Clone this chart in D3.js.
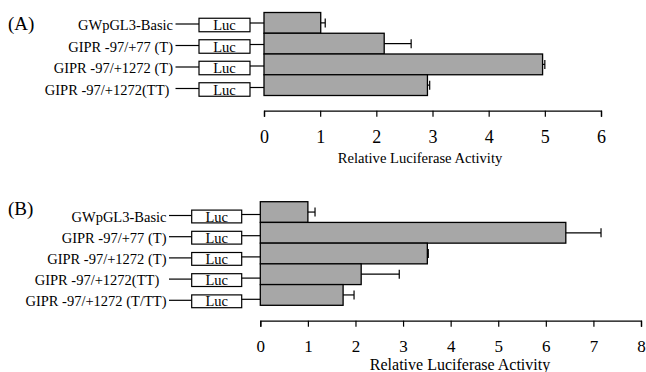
<!DOCTYPE html>
<html lang="en">
<head>
<meta charset="UTF-8">
<title>Relative Luciferase Activity</title>
<script src="https://cdn.jsdelivr.net/npm/d3@7"></script>
<style>
  body { margin: 0; background: #fff; }
  svg text { font-family: "Liberation Serif", "Times New Roman", serif; fill: #000; }
  .lbl { white-space: pre; }
</style>
</head>
<body>
<script>
// panel A
var labelsA = ["GWpGL3-Basic", "GIPR -97/+77 (T)", "GIPR -97/+1272 (T)", "GIPR -97/+1272(TT) "];
var valuesA = [1.01, 2.14, 4.96, 2.91];
var errorsA = [0.08, 0.48, 0.04, 0.04];
var ticksA = [0, 1, 2, 3, 4, 5, 6];

// panel B
var labelsB = ["GWpGL3-Basic", "GIPR -97/+77 (T)", "GIPR -97/+1272 (T)", "GIPR -97/+1272(TT)  ", "GIPR -97/+1272 (T/TT)"];
var valuesB = [1.0, 6.42, 3.51, 2.12, 1.74];
var errorsB = [0.15, 0.74, 0.02, 0.80, 0.23];
var ticksB = [0, 1, 2, 3, 4, 5, 6, 7, 8];

var svg = d3.select("body").append("svg")
    .attr("width", 646)
    .attr("height", 372);

function panel(o) {
    var g = svg.append("g");
    var x = d3.scaleLinear().domain([0, o.max]).range([o.x0, o.x1]);
    var y = d3.scaleBand().domain(d3.range(o.labels.length)).range([o.barTop, o.barBottom]).padding(0);
    var yb = d3.scalePoint().domain(d3.range(o.labels.length)).range([o.boxTop, o.boxBottom]);

    g.append("text").text(o.tag)
        .attr("x", 8).attr("y", o.tagY)
        .attr("font-size", "19px");

    // construct labels and Luc boxes
    var row = g.selectAll("g.row").data(o.labels).enter().append("g").attr("class", "row");
    row.append("text").attr("class", "lbl")
        .text(function(d) { return d; })
        .attr("x", o.textX)
        .attr("y", function(d, i) { return yb(i) + 5; })
        .attr("text-anchor", "end")
        .attr("font-size", "14.5px");
    row.append("line")
        .attr("x1", o.textX + 2.5).attr("x2", o.boxX)
        .attr("y1", function(d, i) { return yb(i) - 1; })
        .attr("y2", function(d, i) { return yb(i) - 1; })
        .attr("stroke", "#000").attr("stroke-width", 1.2);
    row.append("rect")
        .attr("x", o.boxX).attr("width", o.boxW)
        .attr("y", function(d, i) { return yb(i) - o.boxH / 2; })
        .attr("height", o.boxH)
        .attr("fill", "#fff").attr("stroke", "#000").attr("stroke-width", 1.2);
    row.append("text").text("Luc")
        .attr("x", o.boxX + o.boxW / 2)
        .attr("y", function(d, i) { return yb(i) + 5; })
        .attr("text-anchor", "middle")
        .attr("font-size", "14.5px");
    row.append("line")
        .attr("x1", o.boxX + o.boxW).attr("x2", o.x0)
        .attr("y1", function(d, i) { return yb(i) - 2; })
        .attr("y2", function(d, i) { return yb(i) - 2; })
        .attr("stroke", "#000").attr("stroke-width", 1.2);

    // bars
    g.selectAll("rect.bar").data(o.values).enter().append("rect")
        .attr("class", "bar")
        .attr("x", x(0))
        .attr("y", function(d, i) { return y(i); })
        .attr("width", function(d) { return x(d) - x(0); })
        .attr("height", y.bandwidth())
        .attr("fill", "#a7a7a7")
        .attr("stroke", "#000")
        .attr("stroke-width", 1.3);

    // error bars
    var eb = g.selectAll("g.err").data(o.values).enter().append("g").attr("class", "err");
    eb.append("line")
        .attr("x1", function(d) { return x(d); })
        .attr("x2", function(d, i) { return x(d + o.errors[i]); })
        .attr("y1", function(d, i) { return y(i) + y.bandwidth() / 2; })
        .attr("y2", function(d, i) { return y(i) + y.bandwidth() / 2; })
        .attr("stroke", "#000").attr("stroke-width", 1.2);
    eb.append("line")
        .attr("x1", function(d, i) { return x(d + o.errors[i]); })
        .attr("x2", function(d, i) { return x(d + o.errors[i]); })
        .attr("y1", function(d, i) { return y(i) + y.bandwidth() / 2 - 4.5; })
        .attr("y2", function(d, i) { return y(i) + y.bandwidth() / 2 + 4.5; })
        .attr("stroke", "#000").attr("stroke-width", 1.2);

    // x axis
    var axis = d3.axisBottom(x).tickValues(o.ticks).tickFormat(d3.format("d"))
        .tickSize(6).tickSizeOuter(6);
    var ax = g.append("g").attr("transform", "translate(0," + o.axisY + ")").call(axis);
    ax.attr("font-family", null);
    ax.select(".domain").attr("stroke", "#000").attr("stroke-width", 1.3);
    ax.selectAll(".tick line").attr("stroke", "#000").attr("stroke-width", 1.2);
    ax.selectAll(".tick text")
        .style("font-family", "'Liberation Serif', 'Times New Roman', serif")
        .style("font-size", o.tickSize)
        .attr("fill", "#000")
        .attr("dy", null)
        .attr("y", o.tickLabelY - o.axisY);

    g.append("text").text("Relative Luciferase Activity")
        .attr("x", o.titleX).attr("y", o.titleY)
        .attr("text-anchor", "middle")
        .attr("font-size", o.titleSize);
}

panel({
    tag: "(A)", tagY: 29.5,
    labels: labelsA, values: valuesA, errors: errorsA, ticks: ticksA, max: 6,
    x0: 264, x1: 601,
    barTop: 12.5, barBottom: 95.5,
    boxTop: 25, boxBottom: 89.5, boxX: 199, boxW: 51, boxH: 13.5,
    textX: 173,
    axisY: 110.7, tickLabelY: 143, tickSize: "18px",
    titleX: 420, titleY: 163, titleSize: "14.6px"
});

panel({
    tag: "(B)", tagY: 215,
    labels: labelsB, values: valuesB, errors: errorsB, ticks: ticksB, max: 8,
    x0: 260.3, x1: 641,
    barTop: 201.7, barBottom: 305.3,
    boxTop: 216.5, boxBottom: 301.3, boxX: 191.7, boxW: 50, boxH: 12.8,
    textX: 166.5,
    axisY: 320.7, tickLabelY: 352, tickSize: "17px",
    titleX: 460, titleY: 370, titleSize: "16px"
});
</script>
</body>
</html>
